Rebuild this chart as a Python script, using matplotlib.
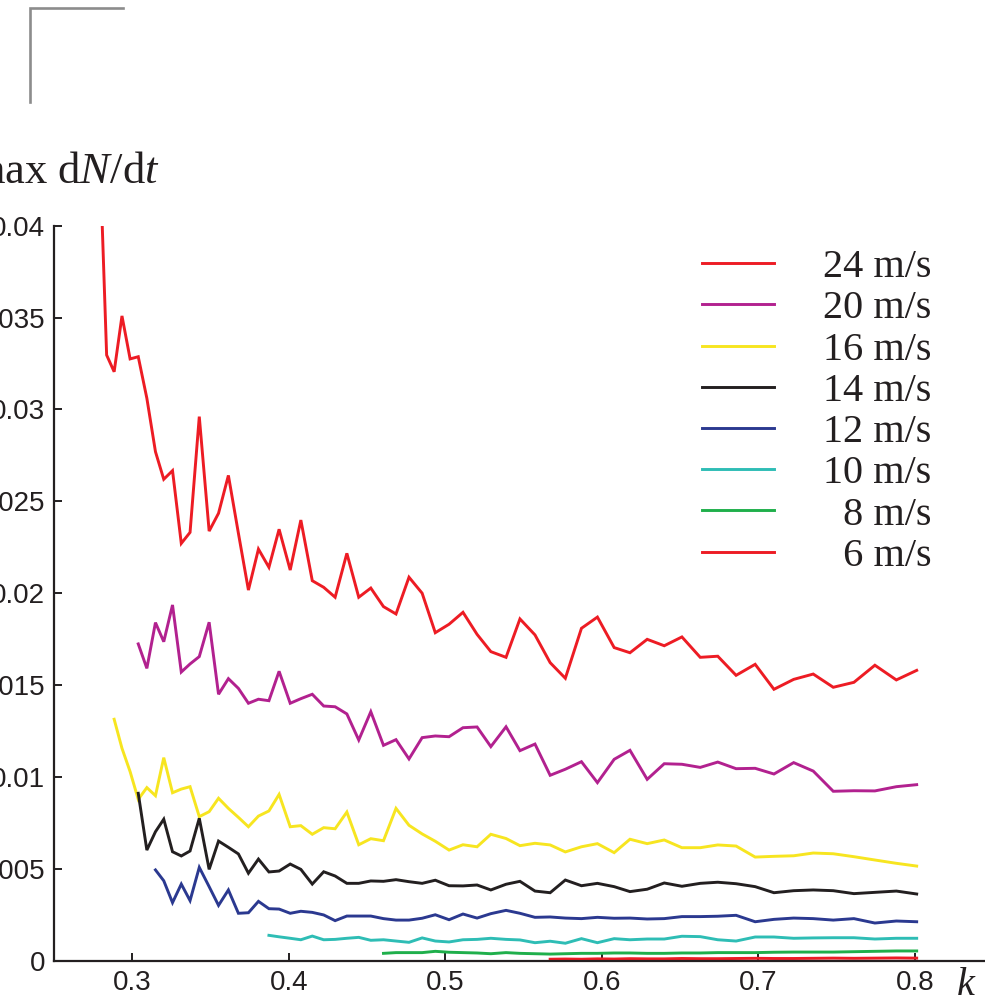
import matplotlib
matplotlib.use("Agg")
import matplotlib.pyplot as plt
from matplotlib.lines import Line2D

# k grid shared by all curves (read from the vertices of the 24 m/s curve)
k_grid = [0.2790, 0.2836, 0.2884, 0.2934, 0.2986, 0.3038, 0.3093, 0.3148, 0.3201, 0.3257,
          0.3313, 0.3369, 0.3428, 0.3491, 0.3551, 0.3614, 0.3678, 0.3742, 0.3806, 0.3873,
          0.3938, 0.4009, 0.4077, 0.4150, 0.4223, 0.4296, 0.4371, 0.4447, 0.4524, 0.4605,
          0.4685, 0.4768, 0.4852, 0.4936, 0.5024, 0.5113, 0.5203, 0.5291, 0.5388, 0.5477,
          0.5573, 0.5670, 0.5767, 0.5870, 0.5972, 0.6079, 0.6180, 0.6290, 0.6399, 0.6512,
          0.6629, 0.6741, 0.6858, 0.6980, 0.7100, 0.7226, 0.7351, 0.7479, 0.7611, 0.7745,
          0.7882, 0.8012]

v24 = [0.0445, 0.03296, 0.03205, 0.03509, 0.03275, 0.03287, 0.03061, 0.02770, 0.02620, 0.02667,
       0.02271, 0.02331, 0.02961, 0.02338, 0.02435, 0.02641, 0.02326, 0.02017, 0.02240, 0.02141,
       0.02348, 0.02126, 0.02398, 0.02068, 0.02032, 0.01978, 0.02217, 0.01978, 0.02028, 0.01927,
       0.01887, 0.02087, 0.02000, 0.01785, 0.01831, 0.01896, 0.01776, 0.01682, 0.01651, 0.01860,
       0.01773, 0.01622, 0.01537, 0.01809, 0.01870, 0.01704, 0.01676, 0.01749, 0.01714, 0.01762,
       0.01651, 0.01657, 0.01553, 0.01613, 0.01477, 0.01531, 0.01560, 0.01488, 0.01515, 0.01608,
       0.01528, 0.01580]
v20 = [0.01724, 0.01591, 0.01840, 0.01736, 0.01936, 0.01571, 0.01615, 0.01655, 0.01842, 0.01450,
       0.01535, 0.01482, 0.01401, 0.01423, 0.01415, 0.01575, 0.01401, 0.01426, 0.01450, 0.01386,
       0.01382, 0.01343, 0.01201, 0.01355, 0.01172, 0.01203, 0.01098, 0.01214, 0.01223, 0.01219,
       0.01268, 0.01272, 0.01165, 0.01273, 0.01143, 0.01179, 0.01009, 0.01042, 0.01083, 0.00969,
       0.01096, 0.01145, 0.00987, 0.01072, 0.01069, 0.01052, 0.01081, 0.01045, 0.01047, 0.01016,
       0.01078, 0.01032, 0.00922, 0.00925, 0.00924, 0.00947, 0.00958]
v16 = [0.01314, 0.01156, 0.01029, 0.00878, 0.00942, 0.00898, 0.01105, 0.00914, 0.00934, 0.00947,
       0.00784, 0.00811, 0.00884, 0.00829, 0.00780, 0.00729, 0.00787, 0.00815, 0.00905, 0.00729,
       0.00735, 0.00688, 0.00724, 0.00718, 0.00809, 0.00631, 0.00664, 0.00653, 0.00829, 0.00737,
       0.00690, 0.00650, 0.00602, 0.00631, 0.00620, 0.00688, 0.00665, 0.00626, 0.00639, 0.00630,
       0.00592, 0.00620, 0.00637, 0.00588, 0.00661, 0.00637, 0.00657, 0.00615, 0.00615, 0.00630,
       0.00624, 0.00564, 0.00568, 0.00571, 0.00586, 0.00582, 0.00566, 0.00548, 0.00530, 0.00515]
v14 = [0.00911, 0.00602, 0.00702, 0.00770, 0.00593, 0.00570, 0.00597, 0.00775, 0.00497, 0.00651,
       0.00617, 0.00581, 0.00476, 0.00553, 0.00483, 0.00488, 0.00526, 0.00497, 0.00417, 0.00484,
       0.00461, 0.00421, 0.00421, 0.00434, 0.00432, 0.00441, 0.00430, 0.00421, 0.00438, 0.00408,
       0.00407, 0.00412, 0.00385, 0.00416, 0.00432, 0.00379, 0.00370, 0.00439, 0.00408, 0.00421,
       0.00403, 0.00376, 0.00389, 0.00423, 0.00405, 0.00421, 0.00427, 0.00419, 0.00403, 0.00370,
       0.00381, 0.00385, 0.00381, 0.00365, 0.00372, 0.00379, 0.00363]
v12 = [0.00494, 0.00435, 0.00316, 0.00417, 0.00327, 0.00508, 0.00403, 0.00301, 0.00385, 0.00258,
       0.00261, 0.00323, 0.00283, 0.00281, 0.00258, 0.00269, 0.00263, 0.00249, 0.00218, 0.00243,
       0.00243, 0.00243, 0.00229, 0.00221, 0.00221, 0.00231, 0.00250, 0.00223, 0.00254, 0.00232,
       0.00256, 0.00274, 0.00258, 0.00236, 0.00238, 0.00232, 0.00229, 0.00236, 0.00231, 0.00232,
       0.00227, 0.00229, 0.00240, 0.00240, 0.00242, 0.00247, 0.00212, 0.00225, 0.00232, 0.00229,
       0.00221, 0.00229, 0.00205, 0.00216, 0.00212]
v10 = [0.00138, 0.00130, 0.00122, 0.00114, 0.00134, 0.00114, 0.00116, 0.00122, 0.00127, 0.00111,
       0.00114, 0.00107, 0.00100, 0.00124, 0.00107, 0.00102, 0.00114, 0.00116, 0.00122, 0.00116,
       0.00113, 0.00098, 0.00106, 0.00095, 0.00120, 0.00098, 0.00120, 0.00114, 0.00118, 0.00118,
       0.00133, 0.00131, 0.00114, 0.00107, 0.00129, 0.00129, 0.00122, 0.00124, 0.00125, 0.00125,
       0.00118, 0.00122, 0.00122]
v8 = [0.00040, 0.00044, 0.00044, 0.00044, 0.00051, 0.00046, 0.00044, 0.00042, 0.00038, 0.00044,
      0.00040, 0.00038, 0.00036, 0.00038, 0.00040, 0.00040, 0.00042, 0.00042, 0.00040, 0.00040,
      0.00042, 0.00042, 0.00044, 0.00044, 0.00044, 0.00046, 0.00047, 0.00047, 0.00047, 0.00049,
      0.00051, 0.00053, 0.00053]
v6 = [0.00008, 0.00009, 0.00008, 0.00010, 0.00009, 0.00011, 0.00010, 0.00010, 0.00012, 0.00011,
      0.00011, 0.00012, 0.00013, 0.00012, 0.00012, 0.00013, 0.00014, 0.00013, 0.00014, 0.00015,
      0.00014]

# figure space in front of the one-digit speeds keeps the labels right aligned
labels = ["24 m/s", "20 m/s", "16 m/s", "14 m/s", "12 m/s", "10 m/s", "\u20078 m/s", "\u20076 m/s"]
series = [v24, v20, v16, v14, v12, v10, v8, v6]
start_idx = [0, 5, 2, 5, 7, 19, 29, 41]
colors = ["#ED1C24", "#B2218F", "#F7E520", "#231F20", "#2B3990", "#2EBDB5", "#1FAF4B", "#ED1C24"]

x_ticks = [0.3, 0.4, 0.5, 0.6, 0.7, 0.8]
y_ticks = [0, 0.005, 0.01, 0.015, 0.02, 0.025, 0.03, 0.035, 0.04]
y_tick_labels = ["0", "0.005", "0.01", "0.015", "0.02", "0.025", "0.03", "0.035", "0.04"]

plt.rcParams["mathtext.fontset"] = "custom"
plt.rcParams["mathtext.rm"] = "Liberation Serif"
plt.rcParams["mathtext.it"] = "Liberation Serif:italic"

W, H = 985, 997
fig = plt.figure(figsize=(W / 100, H / 100), dpi=100)
ax = fig.add_axes([54.05 / W, 36.3 / H, 939 / W, 735 / H])

for vals, s, c, lab in zip(series, start_idx, colors, labels):
    ax.plot(k_grid[s:s + len(vals)], vals, color=c, lw=2.1, label=lab,
            solid_joinstyle="miter")

ax.set_xlim(0.25, 0.85)
ax.set_ylim(0, 0.04)
ax.set_xticks(x_ticks)
ax.set_xticklabels([str(t) for t in x_ticks])
ax.set_yticks(y_ticks)
ax.set_yticklabels(y_tick_labels)

for side in ["top", "right"]:
    ax.spines[side].set_visible(False)
for side in ["left", "bottom"]:
    ax.spines[side].set_linewidth(1.6)
    ax.spines[side].set_color("#231F20")

ax.tick_params(direction="in", length=5.8, width=1.4, color="#231F20",
               labelsize=20, labelcolor="#231F20")
ax.tick_params(axis="x", pad=6.5)
ax.tick_params(axis="y", pad=6.5)
for t in ax.get_xticklabels() + ax.get_yticklabels():
    t.set_family("Liberation Sans")

leg = ax.legend(loc="upper left", bbox_to_anchor=(702 / W, 1 - 249 / H),
                bbox_transform=fig.transFigure, frameon=False, borderpad=0,
                borderaxespad=0, handlelength=1.79, handletextpad=1.22,
                labelspacing=0.10, prop={"family": ["Liberation Serif", "DejaVu Serif"], "size": 29})
for t in leg.get_texts():
    t.set_color("#231F20")

fig.text(160 / W, 1 - 183 / H, r"max d$N$/d$t$", ha="right", va="baseline",
         fontsize=32, family="Liberation Serif", color="#231F20")
fig.text(956 / W, 1 - 995 / H, r"$k$", ha="left", va="baseline",
         fontsize=29, color="#231F20")

# grey corner mark in the top-left
fig.add_artist(Line2D([30 / W, 30 / W, 123 / W], [1 - 102 / H, 1 - 8 / H, 1 - 8 / H],
                      transform=fig.transFigure, color="#8C8C8C", lw=1.9,
                      solid_joinstyle="miter"))

fig.savefig("out.png", dpi=100)
